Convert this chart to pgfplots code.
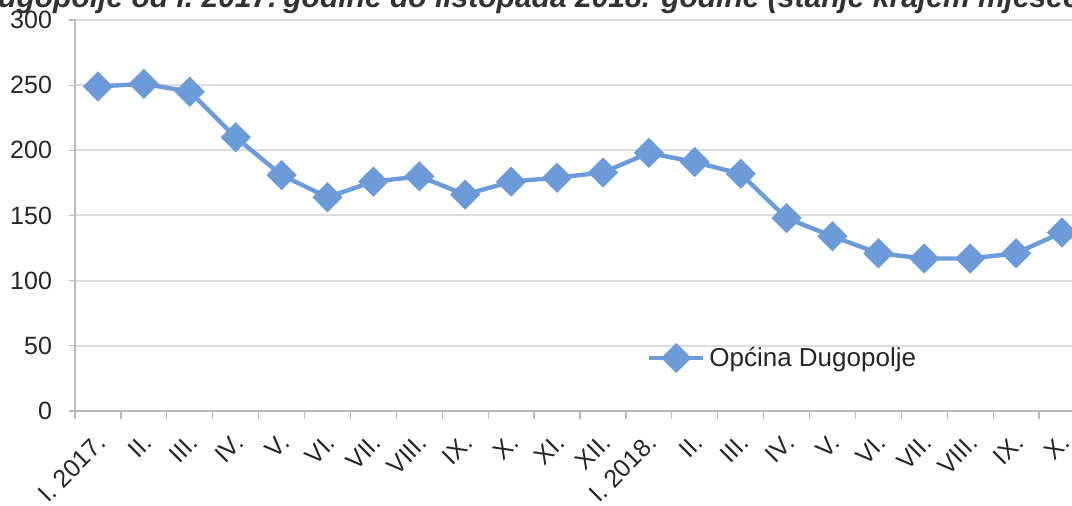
\documentclass[border=0pt]{standalone}
\usepackage{pgfplots}
\pgfplotsset{compat=1.18}
\usepackage{fontspec}
\setmainfont{Liberation Sans}
\definecolor{lineblue}{RGB}{108,155,217}
\definecolor{gridgray}{RGB}{220,220,220}
\definecolor{titlegray}{RGB}{50,50,50}
\begin{document}
\begin{tikzpicture}
\begin{axis}[
  at={(37.5pt,47.5pt)}, anchor=south west,
  scale only axis, width=505pt, height=195.5pt,
  xmin=-0.5, xmax=21.5, ymin=0, ymax=300,
  ytick={0,50,...,300},
  ymajorgrids, grid style={gridgray, line width=1pt},
  axis x line*=bottom, axis y line*=left,
  axis line style={gray!55, line width=0.8pt},
  xtick={0,...,21},
  xticklabels={I. 2017.,II.,III.,IV.,V.,VI.,VII.,VIII.,IX.,X.,XI.,XII.,I. 2018.,II.,III.,IV.,V.,VI.,VII.,VIII.,IX.,X.},
  major x tick style={draw=none},
  minor xtick={-0.5,0.5,...,21.5},
  minor tick length=4pt, major tick length=3pt,
  tick style={gray!55, line width=0.6pt},
  tick align=outside,
  x tick label style={rotate=45, anchor=north east, xshift=-3pt, yshift=-1pt, font=\fontsize{12.5}{14}\selectfont, text=black!85},
  y tick label style={xshift=-5pt, font=\fontsize{12.5}{14}\selectfont, text=black!85},
  /pgf/number format/assume math mode=true,
  legend style={draw=none, fill=none, at={(0.56,0.1355)}, anchor=west, font=\fontsize{13}{15}\selectfont, text=black!85},
  legend image code/.code={\draw[mark repeat=2,mark phase=2,#1] plot coordinates {(0pt,0pt) (13.5pt,0pt) (27pt,0pt)};},
]
\addplot[lineblue, line width=2.2pt, mark=square*, mark size=4.25pt, mark options={rotate=45, solid}] coordinates {
(0,249) (1,251) (2,245) (3,210) (4,181) (5,164) (6,176) (7,180) (8,166) (9,176) (10,179)
(11,183) (12,198) (13,191) (14,182) (15,148) (16,134) (17,121) (18,117) (19,117) (20,121) (21,137)
};
\addlegendentry{Općina Dugopolje}
\end{axis}
\node[anchor=base east, font=\fontsize{15}{17}\selectfont\bfseries\itshape, text=titlegray, inner sep=0pt] at (138.5pt,249pt) {Kretanje broja nezaposlenih u Općini Dugopolje od I. 2017.};
\node[anchor=base west, font=\fontsize{15}{17}\selectfont\bfseries\itshape, text=titlegray, inner sep=0pt] at (141.5pt,249pt) {godine do listopada 2018. godine (stanje krajem mjeseca)};
\pgfresetboundingbox
\useasboundingbox (0,0) rectangle (536pt,253pt);
\end{tikzpicture}
\end{document}
